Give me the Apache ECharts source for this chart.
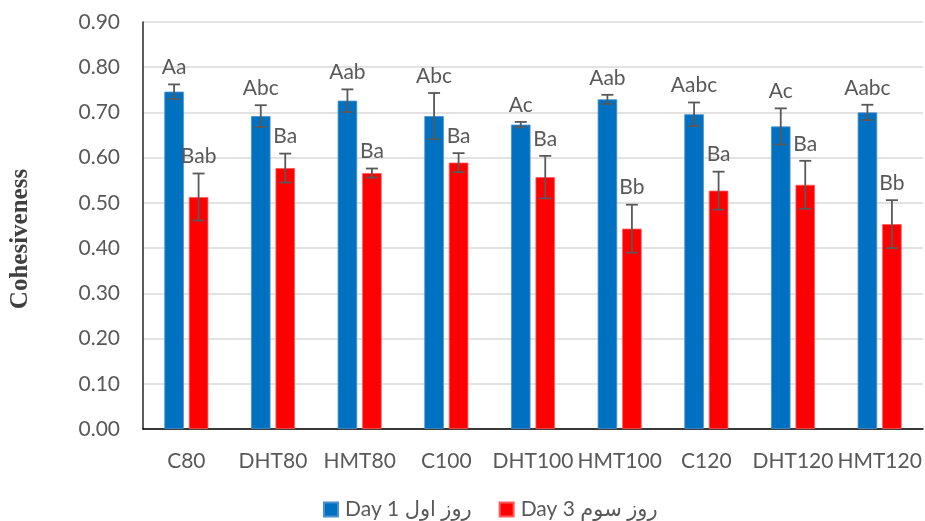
<!DOCTYPE html>
<html>
<head>
<meta charset="utf-8">
<script src="https://cdn.jsdelivr.net/npm/echarts@6/dist/echarts.min.js"></script>
<style>
  html, body { margin: 0; padding: 0; background: #fff; }
  #chart { width: 925px; height: 521px; }
</style>
</head>
<body>
<div id="chart"></div>
<script>
// Cohesiveness of samples on day 1 and day 3 (mean ± SD) with significance letters
const categories = ['C80', 'DHT80', 'HMT80', 'C100', 'DHT100', 'HMT100', 'C120', 'DHT120', 'HMT120'];

const day1Values = [0.746, 0.692, 0.726, 0.692, 0.673, 0.729, 0.696, 0.669, 0.700];
const day1Errors = [0.016, 0.024, 0.025, 0.051, 0.006, 0.010, 0.026, 0.040, 0.017];
const day1Letters = ['Aa', 'Abc', 'Aab', 'Abc', 'Ac', 'Aab', 'Aabc', 'Ac', 'Aabc'];

const day3Values = [0.513, 0.577, 0.566, 0.589, 0.557, 0.443, 0.527, 0.540, 0.453];
const day3Errors = [0.052, 0.032, 0.010, 0.021, 0.047, 0.053, 0.042, 0.053, 0.053];
const day3Letters = ['Bab', 'Ba', 'Ba', 'Ba', 'Ba', 'Bb', 'Ba', 'Ba', 'Bb'];

const seriesNames = ['Day 1 روز اول', 'Day 3 روز سوم'];
const yTicks = { min: 0, max: 0.9, interval: 0.1 };
const yTitle = 'Cohesiveness';

const BAR_W = 19.5;
const BAR_GAP = 5;
const TEXT_FONT = 'Lato, "Open Sans", "DejaVu Sans", sans-serif';
const TEXT_COLOR = '#595959';

// error bar + letter renderer; side = -1 for the left bar, +1 for the right bar
function errorRenderer(errors, letters, side) {
  return function (params, api) {
    const idx = api.value(0);
    const val = api.value(1);
    const err = errors[idx];
    const dx = side * (BAR_W + BAR_GAP) / 2;
    const top = api.coord([idx, val + err]);
    const bot = api.coord([idx, val - err]);
    const x = top[0] + dx;
    const cap = 6;
    const style = { stroke: '#595959', lineWidth: 1.8 };
    return {
      type: 'group',
      children: [
        { type: 'line', shape: { x1: x, y1: top[1], x2: x, y2: bot[1] }, style: style },
        { type: 'line', shape: { x1: x - cap, y1: top[1], x2: x + cap, y2: top[1] }, style: style },
        { type: 'line', shape: { x1: x - cap, y1: bot[1], x2: x + cap, y2: bot[1] }, style: style },
        {
          type: 'text',
          style: {
            text: letters[idx], x: x, y: top[1] - 17,
            align: 'center', verticalAlign: 'middle',
            font: '21px ' + TEXT_FONT, fill: TEXT_COLOR
          }
        }
      ]
    };
  };
}

const chart = echarts.init(document.getElementById('chart'), null, { renderer: 'canvas' });

chart.setOption({
  animation: false,
  backgroundColor: '#ffffff',
  grid: { left: 143, right: 2, top: 22, bottom: 92, containLabel: false },
  legend: {
    top: 494,
    left: 318,
    itemWidth: 14,
    itemHeight: 14,
    itemGap: 27,
    icon: 'rect',
    data: seriesNames,
    textStyle: { fontSize: 21, color: TEXT_COLOR, fontFamily: TEXT_FONT, padding: [0, 0, 0, 2] }
  },
  graphic: [{
    type: 'text',
    x: 21, y: 239,
    rotation: Math.PI / 2,
    style: {
      text: yTitle, align: 'center', verticalAlign: 'middle',
      font: 'bold 25px "Liberation Serif", "Times New Roman", serif', fill: '#404040'
    }
  }],
  xAxis: {
    type: 'category',
    data: categories,
    axisLine: { lineStyle: { color: '#000000', width: 1.5 } },
    axisTick: { show: false },
    axisLabel: { fontSize: 21, color: TEXT_COLOR, fontFamily: TEXT_FONT, margin: 22, interval: 0 }
  },
  yAxis: {
    type: 'value',
    min: yTicks.min,
    max: yTicks.max,
    interval: yTicks.interval,
    axisLine: { show: true, lineStyle: { color: '#262626', width: 1.5 } },
    axisTick: { show: false },
    axisLabel: {
      fontSize: 21, color: TEXT_COLOR, fontFamily: TEXT_FONT, margin: 23,
      formatter: v => v.toFixed(2)
    },
    splitLine: { lineStyle: { color: '#d9d9d9', width: 1.5 } }
  },
  series: [
    {
      name: seriesNames[0], type: 'bar', data: day1Values,
      barWidth: BAR_W, barGap: (BAR_GAP / BAR_W * 100) + '%',
      itemStyle: { color: '#0070c0', borderColor: '#4a90cf', borderWidth: 0.8 }
    },
    {
      name: seriesNames[1], type: 'bar', data: day3Values,
      barWidth: BAR_W,
      itemStyle: { color: '#ff0000', borderColor: '#ff5a5a', borderWidth: 0.8 }
    },
    {
      type: 'custom', name: 'err1', silent: true, z: 10,
      renderItem: errorRenderer(day1Errors, day1Letters, -1),
      data: day1Values.map((v, i) => [i, v])
    },
    {
      type: 'custom', name: 'err3', silent: true, z: 10,
      renderItem: errorRenderer(day3Errors, day3Letters, 1),
      data: day3Values.map((v, i) => [i, v])
    }
  ]
});
</script>
</body>
</html>
